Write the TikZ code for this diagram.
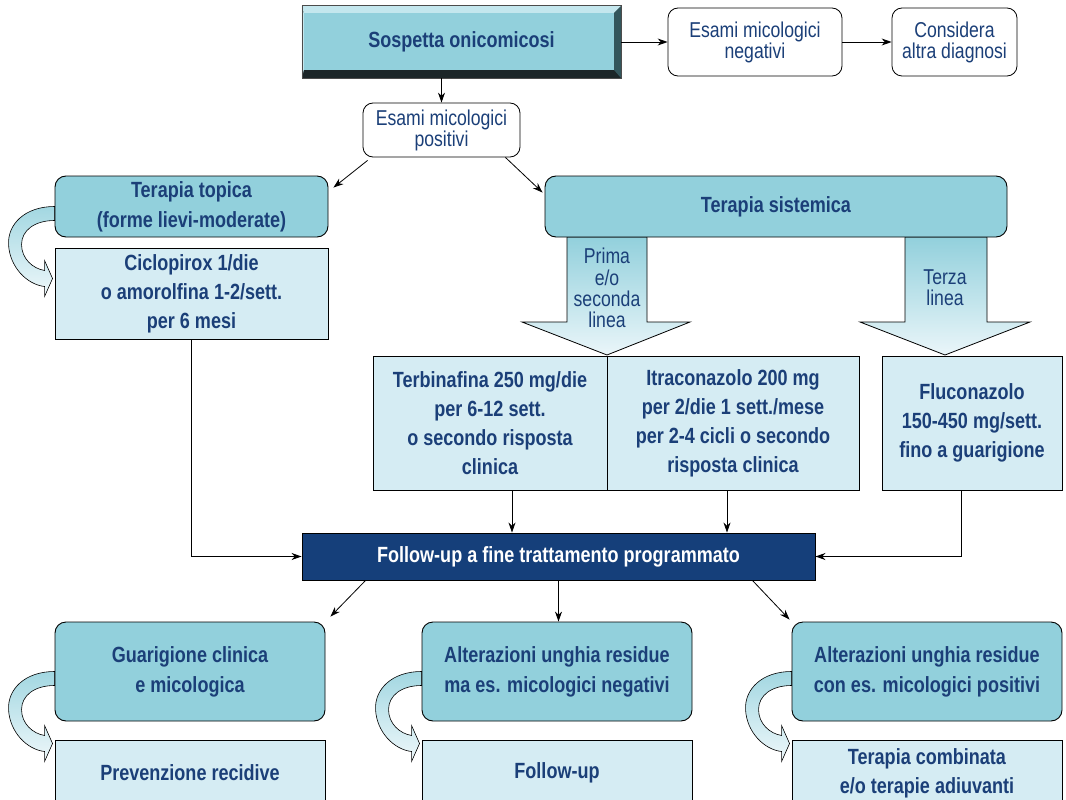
\documentclass[tikz,border=0pt]{standalone}
\usepackage{fontspec}
\setmainfont{Liberation Sans}[FakeStretch=0.82]
\usetikzlibrary{positioning, arrows.meta, calc, backgrounds}

\definecolor{cNavy}{HTML}{1B3F78}
\definecolor{cTeal}{HTML}{92D0DC}
\definecolor{cPale}{HTML}{D5ECF3}
\definecolor{cFup}{HTML}{153F7A}
\definecolor{cBevLight}{HTML}{C4E7EE}
\definecolor{cBevDark}{HTML}{33565C}
\definecolor{cBevBlack}{HTML}{1C2628}

% curled ribbon arrow from the left side of a node
\newcommand{\curlarrow}[1]{%
  \shade[draw=black, line width=0.6pt, top color=cTeal!85, bottom color=cPale!40,
         shift={(#1.west)}]
    (0,0) .. controls (-30,0) and (-47,18) .. (-46,38)
          .. controls (-45,60) and (-28,78) .. (-10,80)
    -- (-10,90) -- (-2,72) -- (-10,54) -- (-10,64)
          .. controls (-22,62) and (-33,52) .. (-33,38)
          .. controls (-33,24) and (-20,14) .. (0,14) -- cycle;}

\begin{document}
\begin{tikzpicture}[
    x=1pt, y=-1pt,
    topbox/.style={
        draw=none, inner sep=0pt, align=center, text=cNavy,
        font=\bfseries\fontsize{22}{26}\selectfont
    },
    tealbox/.style={
        draw=black, line width=0.9pt, fill=cTeal, rounded corners=11pt,
        inner sep=0pt, align=center, text=cNavy,
        font=\bfseries\fontsize{22}{30}\selectfont
    },
    palerect/.style={
        draw=black, line width=0.9pt, fill=cPale,
        inner sep=0pt, align=center, text=cNavy,
        font=\bfseries\fontsize{22}{29}\selectfont
    },
    whitebox/.style={
        draw=black, line width=0.8pt, fill=white, rounded corners=10pt,
        inner sep=0pt, align=center, text=cNavy,
        font=\fontsize{21.5}{21}\selectfont
    },
    fupbox/.style={
        draw=black, line width=0.9pt, fill=cFup,
        inner sep=0pt, align=center, text=white,
        font=\bfseries\fontsize{22}{24}\selectfont
    },
    linelbl/.style={inner sep=0pt, align=center, text=cNavy, font=\fontsize{21.5}{21.3}\selectfont},
    arr/.style={-{Stealth[length=10pt,width=7pt]}, line width=0.8pt},
    bigarrow/.style={draw=black, line width=0.8pt, top color=cTeal, bottom color=cPale!50},
]

\useasboundingbox (0,0) rectangle (1066,800);

% ====== TOP ROW ======
\node[topbox, minimum width=319, minimum height=72] (sosp) at (461.5,42) {Sospetta onicomicosi};
\node[whitebox, minimum width=174, minimum height=68] (neg) at (755,42) {Esami micologici\\negativi};
\node[whitebox, minimum width=125, minimum height=68] (cons) at (954.5,42) {Considera\\altra diagnosi};
\node[whitebox, minimum width=157, minimum height=54] (pos) at (441.5,130) {Esami micologici\\positivi};

% bevel of the first box
\begin{scope}[on background layer]
\fill[cBevBlack] (sosp.south west) rectangle (sosp.north east);
\fill[cBevLight] (sosp.north west) -- (sosp.north east) -- ([xshift=-7pt,yshift=-7pt]sosp.north east)
    -- ([xshift=2pt,yshift=-7pt]sosp.north west) -- cycle;
\fill[cBevLight] (sosp.north west) -- (sosp.south west) -- ([xshift=2pt,yshift=8pt]sosp.south west)
    -- ([xshift=2pt,yshift=-7pt]sosp.north west) -- cycle;
\fill[cBevDark] (sosp.north east) -- (sosp.south east) -- ([xshift=-7pt,yshift=8pt]sosp.south east)
    -- ([xshift=-7pt,yshift=-7pt]sosp.north east) -- cycle;
\fill[cTeal] ([xshift=2pt,yshift=-7pt]sosp.north west) rectangle ([xshift=-7pt,yshift=8pt]sosp.south east);
\draw[black!70, line width=0.6pt] (sosp.south west) rectangle (sosp.north east);
\end{scope}

\draw[arr] (sosp.east) -- (neg.west);
\draw[arr] (neg.east) -- (cons.west);
\draw[arr] (pos.north |- sosp.south) -- (pos.north);

% ====== TERAPIA TOPICA / SISTEMICA ======
\node[tealbox, minimum width=273, minimum height=61] (topica) at (191.5,206.5) {Terapia topica\\(forme lievi-moderate)};
\node[palerect, minimum width=273, minimum height=91] (ciclo) at (191.5,293.5) {Ciclopirox 1/die\\o amorolfina 1-2/sett.\\per 6 mesi};
\node[tealbox, minimum width=462, minimum height=61] (sist) at (776,206.5) {Terapia sistemica};

\draw[arr] ([xshift=5pt,yshift=-3pt]pos.south west) -- ([xshift=5pt,yshift=-12pt]topica.north east);
\draw[arr] ([xshift=-15pt]pos.south east) -- ([xshift=-2pt,yshift=-17pt]sist.north west);

% block arrows under the systemic therapy
\begin{scope}[on background layer]
\shade[bigarrow] (567,237) -- (567,322) -- (522,322) -- (607,355) -- (690,322) -- (647,322) -- (647,237) -- cycle;
\shade[bigarrow] (905,237) -- (905,322) -- (860,322) -- (945,355) -- (1030,322) -- (987,322) -- (987,237) -- cycle;
\curlarrow{topica}
\end{scope}
\node[linelbl] (lin12) at (607,288) {Prima\\e/o\\seconda\\linea};
\node[linelbl] (lin3) at (945,288) {Terza\\linea};

% ====== FARMACI ======
\node[palerect, minimum width=234, minimum height=134] (terb) at (490,423) {Terbinafina 250 mg/die\\per 6-12 sett.\\o secondo risposta\\clinica};
\node[palerect, minimum width=252, minimum height=134] (itra) at (733,423) {Itraconazolo 200 mg\\per 2/die 1 sett./mese\\per 2-4 cicli o secondo\\risposta clinica};
\node[palerect, minimum width=180, minimum height=134] (fluc) at (972,423) {Fluconazolo\\150-450 mg/sett.\\fino a guarigione};

% ====== FOLLOW-UP ======
\node[fupbox, minimum width=513, minimum height=47] (fup) at (558.5,556.5) {Follow-up a fine trattamento programmato};

\draw[arr] ([xshift=22pt]terb.south) -- ([xshift=22pt]terb.south |- fup.north);
\draw[arr] ([xshift=-6pt]itra.south) -- ([xshift=-6pt]itra.south |- fup.north);
\draw[arr] (ciclo.south) |- (fup.west);
\draw[arr] ([xshift=-11pt]fluc.south) |- (fup.east);

% ====== ESITI ======
\node[tealbox, minimum width=270, minimum height=99] (guar) at (190,671.5) {Guarigione clinica\\e micologica};
\node[tealbox, minimum width=270, minimum height=99] (altn) at (557,671.5) {Alterazioni unghia residue\\ma es. micologici negativi};
\node[tealbox, minimum width=270, minimum height=99] (altp) at (927,671.5) {Alterazioni unghia residue\\con es. micologici positivi};

\node[palerect, minimum width=270, minimum height=66] (prev) at (190,773) {Prevenzione recidive};
\node[palerect, minimum width=270, minimum height=66] (fol) at (557,773) {Follow-up};
\node[palerect, minimum width=270, minimum height=66] (comb) at (927,773) {Terapia combinata\\e/o terapie adiuvanti};

\draw[arr] ([xshift=64pt]fup.south west) -- ([xshift=5pt,yshift=5pt]guar.north east);
\draw[arr] (fup.south) -- (fup.south |- altn.north);
\draw[arr] ([xshift=-63pt]fup.south east) -- ([xshift=-2pt,yshift=2pt]altp.north west);

\begin{scope}[on background layer]
\curlarrow{guar}
\curlarrow{altn}
\curlarrow{altp}
\end{scope}

\end{tikzpicture}
\end{document}
